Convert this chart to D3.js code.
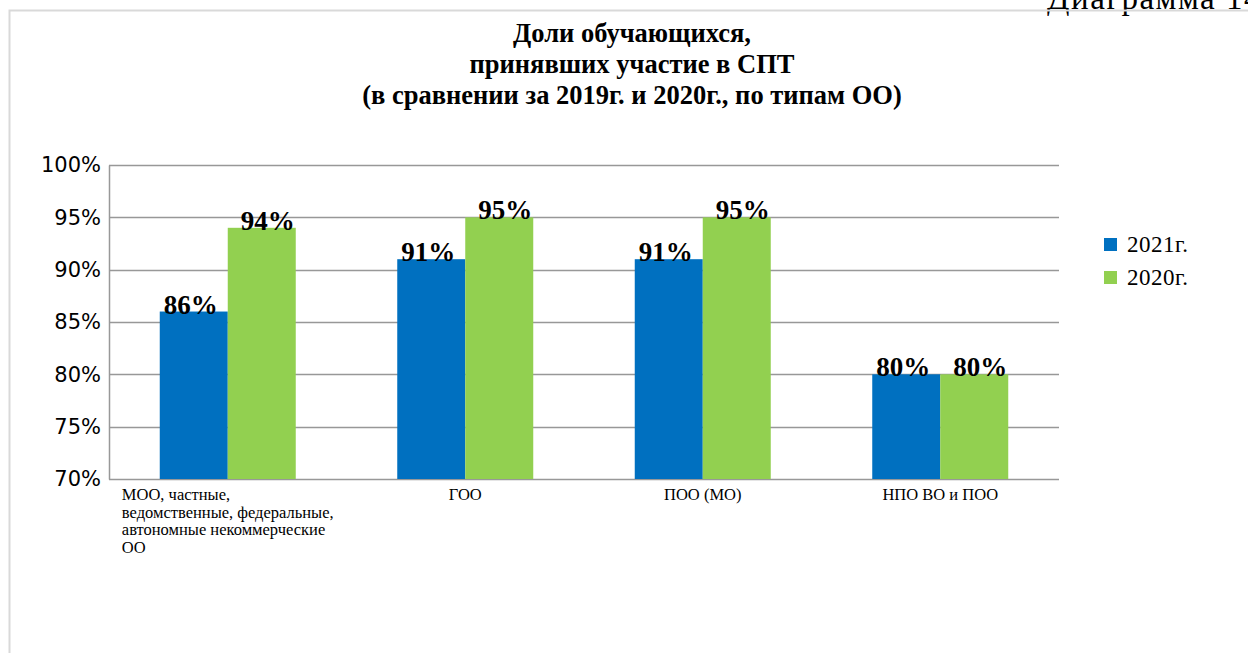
<!DOCTYPE html>
<html>
<head>
<meta charset="utf-8">
<script src="https://cdn.jsdelivr.net/npm/d3@7"></script>
<style>
  body { margin: 0; background: #fff; }
  svg { display: block; }
</style>
</head>
<body>
<svg id="chart" width="1248" height="653"></svg>
<script>
// Chart values.
const categories = [
    'МОО, частные, ведомственные, федеральные, автономные некоммерческие ОО',
    'ГОО',
    'ПОО (МО)',
    'НПО ВО и ПОО'
];
// the first label is wrapped over several lines in the original
const categoryLines = [
    ['МОО, частные,', 'ведомственные, федеральные,', 'автономные некоммерческие', 'ОО'],
    ['ГОО'],
    ['ПОО (МО)'],
    ['НПО ВО и ПОО']
];
const seriesNames = ['2021г.', '2020г.'];
const values2021 = [86, 91, 91, 80];
const values2020 = [94, 95, 95, 80];
const yTicks = [70, 75, 80, 85, 90, 95, 100];
const titleLines = [
    'Доли обучающихся,',
    'принявших участие в СПТ',
    '(в сравнении за 2019г. и 2020г., по типам ОО)'
];

const colors = ['#0070C0', '#92D050'];
const seriesValues = [values2021, values2020];
const serif = "'Liberation Serif', 'Times New Roman', serif";

const svg = d3.select('#chart');

// Caption above the chart frame, cut by the page edge.
svg.append('text')
    .style('font-family', serif)
    .attr('x', 1262)
    .attr('y', 9)
    .attr('text-anchor', 'end')
    .attr('font-size', 33)
    .attr('letter-spacing', 1.5)
    .text('Диаграмма 14');

// Chart frame (left and top edges only are visible).
svg.append('path')
    .attr('d', 'M9.5,653 L9.5,10.5 L1248,10.5')
    .attr('fill', 'none')
    .attr('stroke', '#d9d9d9')
    .attr('stroke-width', 2);

// Title
svg.append('g')
    .selectAll('text')
    .data(titleLines)
    .join('text')
    .style('font-family', serif)
    .attr('x', 632)
    .attr('y', (d, i) => 42 + i * 31)
    .attr('text-anchor', 'middle')
    .attr('font-weight', 'bold')
    .attr('font-size', 26.5)
    .text(d => d);

const plot = {left: 109, right: 1059, top: 165, bottom: 479};

const x = d3.scaleBand()
    .domain(d3.range(categories.length))
    .range([plot.left, plot.right])
    .paddingInner(0)
    .paddingOuter(0);

const barWidth = 68;

const y = d3.scaleLinear()
    .domain([70, 100])
    .range([plot.bottom, plot.top]);

// Gridlines
svg.append('g')
    .selectAll('line')
    .data(yTicks)
    .join('line')
    .attr('x1', plot.left)
    .attr('x2', plot.right)
    .attr('y1', d => Math.round(y(d)) + 0.5)
    .attr('y2', d => Math.round(y(d)) + 0.5)
    .attr('stroke', '#989898')
    .attr('stroke-width', 1.5);

// Y axis via d3.axisLeft, restyled to look like the original
const yAxis = svg.append('g')
    .attr('transform', 'translate(' + plot.left + ',0)')
    .call(d3.axisLeft(y).tickValues(yTicks).tickSize(0).tickPadding(8).tickFormat(d => d + '%'));
yAxis.select('.domain')
    .attr('stroke', '#989898')
    .attr('stroke-width', 1.5);
yAxis.selectAll('text')
    .style('font-family', "'DejaVu Sans', sans-serif")
    .attr('font-size', 21)
    .attr('fill', '#000');

// Bars
seriesValues.forEach(function(vals, s) {
    svg.append('g')
        .selectAll('rect')
        .data(vals)
        .join('rect')
        .attr('x', (d, i) => x(i) + x.bandwidth() / 2 - barWidth + s * barWidth)
        .attr('y', d => y(d))
        .attr('width', barWidth)
        .attr('height', d => y(70) - y(d))
        .attr('fill', colors[s]);
});

// Data labels (green ones sit a little to the right in the original)
seriesValues.forEach(function(vals, s) {
    svg.append('g')
        .selectAll('text')
        .data(vals)
        .join('text')
        .style('font-family', serif)
        .attr('x', (d, i) => x(i) + x.bandwidth() / 2 - barWidth / 2 + s * barWidth + (s ? 6 : -3))
        .attr('y', d => y(d) + 2)
        .attr('text-anchor', 'middle')
        .attr('font-weight', 'bold')
        .attr('font-size', 27)
        .text(d => d + '%');
});

// Category labels
const catGroup = svg.append('g');
categoryLines.forEach(function(lines, i) {
    const cx = x(i) + x.bandwidth() / 2;
    const t = catGroup.append('text')
        .style('font-family', serif)
        .attr('font-size', 16.5)
        .attr('fill', '#000');
    lines.forEach(function(line, j) {
        t.append('tspan')
            .attr('x', cx)
            .attr('y', 500 + j * 17.5)
            .text(line);
    });
    // multi-line labels are left aligned inside a block centred on the category
    if (lines.length > 1) {
        const w = t.node().getBBox().width;
        t.selectAll('tspan').attr('x', cx - w / 2);
    } else {
        t.attr('text-anchor', 'middle');
    }
});

// Legend
const legend = svg.append('g')
    .selectAll('g')
    .data(seriesNames)
    .join('g')
    .attr('transform', (d, i) => 'translate(1104,' + (238 + i * 33) + ')');
legend.append('rect')
    .attr('width', 13)
    .attr('height', 13)
    .attr('fill', (d, i) => colors[i]);
legend.append('text')
    .style('font-family', serif)
    .attr('x', 23)
    .attr('y', 14)
    .attr('font-size', 23)
    .attr('letter-spacing', 0.5)
    .text(d => d);
</script>
</body>
</html>
